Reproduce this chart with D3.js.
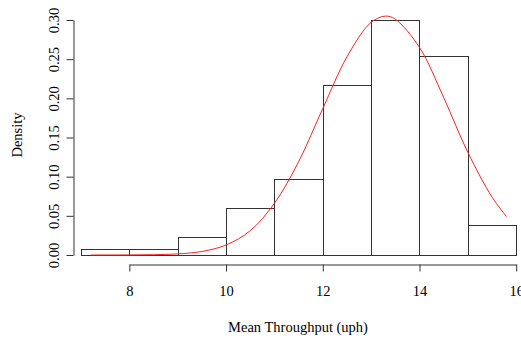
<!DOCTYPE html>
<html>
<head>
<meta charset="utf-8">
<script src="https://cdn.jsdelivr.net/npm/d3@7"></script>
<style>
  body { margin: 0; background: #fff; }
  text { font-family: 'Liberation Serif', 'Times New Roman', serif; fill: #000; }
</style>
</head>
<body>
<div id="plot"></div>
<script>
// histogram bins (left edge, right edge, density)
var binStarts = [7, 8, 9, 10, 11, 12, 13, 14, 15]
var binEnds = [8, 9, 10, 11, 12, 13, 14, 15, 16]
var densities = [0.0077, 0.0077, 0.023, 0.060, 0.0975, 0.217, 0.2995, 0.2545, 0.038]

// fitted curve
var curveX = [7.2, 7.5, 8, 8.5, 9, 9.5, 10, 10.5, 11, 11.5, 12, 12.5, 13, 13.3, 13.5, 14, 14.5, 15, 15.5, 15.8]
var curveY = [0.00001, 0.00002, 0.0001, 0.0004, 0.0014, 0.0045, 0.0128, 0.031, 0.066, 0.119, 0.187, 0.253, 0.297, 0.305, 0.301, 0.265, 0.201, 0.131, 0.074, 0.049]

var xTicks = [8, 10, 12, 14, 16]
var yTicks = [0, 0.05, 0.1, 0.15, 0.2, 0.25, 0.3]

var width = 521
var height = 338

var xScale = d3.scaleLinear().domain([7, 16]).range([81, 516.2])
var yScale = d3.scaleLinear().domain([0, 0.3]).range([255, 20])

var svg = d3
  .select('#plot')
  .append('svg')
  .attr('width', width)
  .attr('height', height)

// bars
svg
  .append('g')
  .selectAll('rect')
  .data(densities)
  .enter()
  .append('rect')
  .attr('x', function(d, i) { return Math.round(xScale(binStarts[i])) + 0.5 })
  .attr('y', function(d) { return Math.round(yScale(d)) + 0.5 })
  .attr('width', function(d, i) { return Math.round(xScale(binEnds[i])) - Math.round(xScale(binStarts[i])) })
  .attr('height', function(d) { return Math.round(yScale(0)) - Math.round(yScale(d)) })
  .style('fill', '#fff')
  .style('stroke', '#333')
  .style('stroke-width', 1)

// density curve
var plotLine = d3
  .line()
  .curve(d3.curveCatmullRom)
  .x(function(d, i) { return xScale(curveX[i]) })
  .y(function(d) { return yScale(d) })

svg
  .append('path')
  .datum(curveY)
  .attr('d', plotLine)
  .style('fill', 'none')
  .style('stroke', '#ff2020')
  .style('stroke-width', 1)

// x axis only spans 8..16
var xAxisScale = d3.scaleLinear().domain([8, 16]).range([xScale(8), xScale(16)])
var xAxis = d3.axisBottom(xAxisScale).tickValues(xTicks).tickSize(7).tickSizeOuter(0).tickFormat(d3.format('d'))

var gx = svg
  .append('g')
  .attr('transform', 'translate(0,264.5)')
  .call(xAxis)
gx.selectAll('path, line').style('stroke', '#333')
gx.selectAll('text')
  .attr('y', 21)
  .style('font-size', '14.5px')
  .style('font-family', "'Liberation Serif', serif")

var yAxis = d3.axisLeft(yScale).tickValues(yTicks).tickSize(7).tickSizeOuter(0).tickFormat(d3.format('.2f'))

var gy = svg
  .append('g')
  .attr('transform', 'translate(73.5,0)')
  .call(yAxis)
gy.selectAll('path, line').style('stroke', '#333')
gy.selectAll('text')
  .attr('x', 0)
  .attr('dy', 0)
  .attr('transform', 'translate(-20,0) rotate(-90)')
  .attr('text-anchor', 'middle')
  .attr('dominant-baseline', 'central')
  .style('font-size', '14.5px')
  .style('font-family', "'Liberation Serif', serif")

svg
  .append('text')
  .attr('x', 298)
  .attr('y', 327)
  .attr('text-anchor', 'middle')
  .attr('dominant-baseline', 'central')
  .style('font-size', '14.5px')
  .text('Mean Throughput (uph)')

svg
  .append('text')
  .attr('transform', 'translate(17,135) rotate(-90)')
  .attr('text-anchor', 'middle')
  .attr('dominant-baseline', 'central')
  .style('font-size', '14.5px')
  .text('Density')
</script>
</body>
</html>
